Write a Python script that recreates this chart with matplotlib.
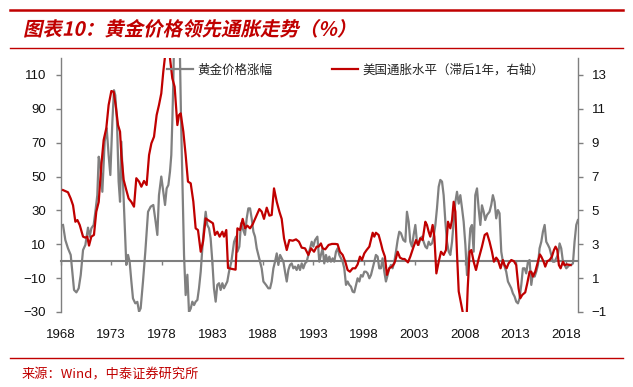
import numpy as np
import matplotlib
matplotlib.use("Agg")
import matplotlib.pyplot as plt
from matplotlib import patheffects as pe
from matplotlib.transforms import Affine2D
from matplotlib.font_manager import FontProperties

# ---------------- data ----------------
# gold price YoY change (%), left axis: (year, value)
gold_points = [
    (1968.23, 21.4), (1968.46, 12.5), (1968.72, 7.6), (1968.99, 3.7), (1969.15, -6.2),
    (1969.32, -17.0), (1969.55, -18.4), (1969.78, -16.0), (1969.98, -8.2), (1970.21, 6.6),
    (1970.44, 9.6), (1970.70, 19.8), (1970.87, 14.5), (1971.03, 19.4), (1971.26, 21.4),
    (1971.43, 29.2), (1971.62, 39.0), (1971.76, 61.7), (1971.92, 56.8), (1972.12, 41.0),
    (1972.35, 70.6), (1972.55, 78.5), (1972.74, 62.7), (1972.91, 50.9), (1973.11, 82.4),
    (1973.27, 101.0), (1973.40, 98.0), (1973.57, 82.4), (1973.73, 47.0), (1973.87, 35.1),
    (1974.00, 70.6), (1974.16, 47.0), (1974.33, 23.3), (1974.49, -2.2), (1974.66, 3.7),
    (1974.82, -0.3), (1974.99, -12.0), (1975.15, -22.0), (1975.38, -24.9), (1975.58, -24.0),
    (1975.75, -29.8), (1975.91, -27.8), (1976.14, -12.0), (1976.37, 5.6), (1976.64, 29.2),
    (1976.90, 32.2), (1977.16, 33.2), (1977.39, 23.3), (1977.56, 15.5), (1977.72, 39.0),
    (1977.95, 50.0), (1978.15, 41.0), (1978.32, 33.2), (1978.48, 43.0), (1978.65, 45.0),
    (1978.81, 52.9), (1978.94, 62.7), (1979.04, 82.4), (1979.14, 106.0), (1979.27, 150.0),
    (1979.45, 175.0), (1979.62, 150.0), (1979.80, 120.0), (1979.90, 85.0), (1980.03, 50.0),
    (1980.20, 3.7), (1980.36, -20.0), (1980.53, -8.0), (1980.69, -30.0), (1980.86, -28.0),
    (1981.02, -23.9), (1981.19, -25.9), (1981.35, -23.9), (1981.52, -22.9), (1981.68, -16.0),
    (1981.85, -6.2), (1982.01, 7.6), (1982.17, 19.4), (1982.34, 29.2), (1982.50, 21.4),
    (1982.67, 19.4), (1982.83, 13.5), (1983.00, -0.3), (1983.16, -16.0), (1983.33, -23.9),
    (1983.49, -14.0), (1983.66, -13.0), (1983.82, -17.0), (1983.99, -13.0), (1984.15, -16.0),
    (1984.32, -14.0), (1984.48, -12.0), (1984.65, -6.2), (1984.88, -0.3), (1985.15, 11.5),
    (1985.34, 14.5), (1985.48, 5.6), (1985.67, 8.6), (1985.84, 22.4), (1986.00, 19.4),
    (1986.23, 15.5), (1986.40, 25.3), (1986.56, 31.2), (1986.73, 31.2), (1986.89, 25.3),
    (1987.06, 17.4), (1987.22, 14.5), (1987.39, 7.6), (1987.55, 3.7), (1987.72, -0.3),
    (1987.88, -4.2), (1988.05, -12.0), (1988.31, -14.0), (1988.54, -16.0), (1988.71, -16.0),
    (1988.87, -12.0), (1989.04, -4.2), (1989.20, -0.3), (1989.37, 4.6), (1989.53, -2.2),
    (1989.70, 3.7), (1989.86, 1.7), (1990.03, -0.3), (1990.19, -6.2), (1990.36, -12.0),
    (1990.52, -5.2), (1990.68, -2.2), (1990.85, -1.3), (1991.01, -4.2), (1991.18, -3.2),
    (1991.34, -5.2), (1991.51, -2.2), (1991.67, -5.2), (1991.84, -1.3), (1992.00, -4.2),
    (1992.17, -1.3), (1992.33, -0.3), (1992.50, 3.7), (1992.66, 7.6), (1992.83, 11.5),
    (1992.99, 8.6), (1993.16, 12.5), (1993.39, 14.5), (1993.58, -0.3), (1993.74, 3.7),
    (1993.91, 7.6), (1994.07, -1.3), (1994.24, 3.7), (1994.40, -0.3), (1994.57, 2.7),
    (1994.73, -0.3), (1994.90, 1.7), (1995.06, -0.3), (1995.23, 5.6), (1995.39, 7.6),
    (1995.56, 3.7), (1995.72, 1.7), (1995.89, -0.3), (1996.05, -4.2), (1996.22, -14.0),
    (1996.38, -12.0), (1996.55, -14.0), (1996.71, -15.0), (1996.88, -18.0), (1997.04, -18.4),
    (1997.21, -14.0), (1997.37, -10.1), (1997.54, -12.0), (1997.70, -8.2), (1997.87, -9.1),
    (1998.03, -6.2), (1998.20, -6.2), (1998.36, -7.2), (1998.53, -10.1), (1998.69, -8.2),
    (1998.86, -4.2), (1999.02, -0.3), (1999.18, 3.7), (1999.35, 2.7), (1999.51, -4.2),
    (1999.68, -4.2), (1999.84, 1.7), (2000.01, -6.2), (2000.17, -12.0), (2000.34, -8.2),
    (2000.50, -4.2), (2000.67, -2.2), (2000.83, -4.2), (2001.00, -0.3), (2001.16, 5.6),
    (2001.33, 12.5), (2001.49, 17.4), (2001.66, 16.5), (2001.89, 12.5), (2002.09, 11.5),
    (2002.25, 29.2), (2002.42, 23.3), (2002.58, 11.5), (2002.75, 8.6), (2002.91, 15.5),
    (2003.08, 21.4), (2003.24, 11.5), (2003.41, 9.6), (2003.57, 13.5), (2003.74, 14.5),
    (2003.90, 11.5), (2004.07, 8.6), (2004.23, 7.6), (2004.40, 11.5), (2004.56, 9.6),
    (2004.73, 10.5), (2004.89, 14.5), (2005.06, 21.4), (2005.22, 31.2), (2005.39, 44.0),
    (2005.55, 48.0), (2005.72, 47.0), (2005.88, 39.0), (2006.05, 23.3), (2006.21, 11.5),
    (2006.38, 5.6), (2006.54, 3.7), (2006.71, 11.5), (2006.87, 23.3), (2007.04, 35.0),
    (2007.20, 41.0), (2007.37, 34.0), (2007.53, 39.0), (2007.70, 31.2), (2007.86, 23.3),
    (2008.03, 9.6), (2008.19, -8.2), (2008.35, 3.7), (2008.52, 19.4), (2008.68, 21.4),
    (2008.85, 5.6), (2009.01, 39.0), (2009.18, 43.0), (2009.34, 31.2), (2009.51, 21.4),
    (2009.67, 33.0), (2009.84, 29.2), (2009.99, 24.3), (2010.17, 27.3), (2010.42, 29.2),
    (2010.59, 33.2), (2010.75, 39.0), (2010.92, 35.0), (2011.08, 25.3), (2011.25, 30.2),
    (2011.41, 28.3), (2011.58, 5.6), (2011.74, -0.3), (2011.91, -3.2), (2012.07, -6.2),
    (2012.24, -12.0), (2012.40, -14.0), (2012.57, -16.0), (2012.73, -19.0), (2012.90, -20.9),
    (2013.06, -23.9), (2013.23, -24.9), (2013.39, -21.9), (2013.56, -14.0), (2013.72, -4.2),
    (2013.89, -4.2), (2014.05, -7.2), (2014.22, -0.3), (2014.38, 0.7), (2014.55, -14.0),
    (2014.71, -7.2), (2014.88, -9.1), (2015.04, -6.2), (2015.21, -2.2), (2015.37, 7.6),
    (2015.54, 11.5), (2015.70, 17.4), (2015.87, 21.4), (2016.03, 11.5), (2016.20, 9.6),
    (2016.36, 7.6), (2016.52, 3.7), (2016.69, -0.3), (2016.85, -0.3), (2017.02, 1.7),
    (2017.18, 3.7), (2017.35, 10.5), (2017.51, 7.6), (2017.68, -0.3), (2017.84, -2.2),
    (2018.01, -4.2), (2018.17, -3.2), (2018.34, -2.2), (2018.50, -2.2), (2018.67, -1.3),
    (2018.83, 11.5), (2019.00, 21.4), (2019.16, 24.3),
]

# US inflation (%), lagged one year, right axis: (year, value)
cpi_points = [
    (1968.23, 6.20), (1968.72, 6.07), (1968.99, 5.70), (1969.22, 5.30), (1969.45, 4.33),
    (1969.65, 4.43), (1969.88, 4.14), (1970.21, 3.45), (1970.44, 3.39), (1970.63, 3.45),
    (1970.80, 2.92), (1971.03, 3.45), (1971.29, 3.55), (1971.52, 4.92), (1971.76, 5.50),
    (1972.02, 7.68), (1972.25, 9.16), (1972.51, 9.85), (1972.74, 11.22), (1973.01, 12.05),
    (1973.24, 12.00), (1973.44, 11.20), (1973.67, 10.04), (1973.87, 9.65), (1974.00, 8.27),
    (1974.23, 6.80), (1974.49, 6.20), (1974.72, 5.70), (1974.99, 5.50), (1975.25, 5.22),
    (1975.48, 6.90), (1975.75, 6.70), (1975.98, 6.40), (1976.24, 6.74), (1976.50, 6.50),
    (1976.74, 8.27), (1976.97, 8.96), (1977.23, 9.35), (1977.49, 10.63), (1977.72, 11.22),
    (1977.95, 11.91), (1978.15, 13.20), (1978.32, 14.10), (1978.55, 14.80), (1978.81, 14.00),
    (1979.04, 12.80), (1979.27, 12.30), (1979.54, 10.04), (1979.70, 10.63), (1979.87, 10.73),
    (1980.13, 9.65), (1980.36, 8.27), (1980.59, 6.70), (1980.86, 6.60), (1981.12, 5.52),
    (1981.35, 3.94), (1981.58, 3.84), (1981.85, 2.56), (1982.08, 3.15), (1982.34, 4.53),
    (1982.57, 4.43), (1982.83, 4.33), (1983.06, 4.24), (1983.26, 3.55), (1983.49, 3.74),
    (1983.72, 3.45), (1983.99, 3.74), (1984.15, 3.45), (1984.38, 3.84), (1984.55, 1.60),
    (1984.90, 1.55), (1985.30, 1.50), (1985.48, 3.94), (1985.74, 3.84), (1986.00, 4.50),
    (1986.23, 3.94), (1986.46, 4.10), (1986.73, 3.94), (1986.99, 4.18), (1987.32, 4.63),
    (1987.65, 5.08), (1987.88, 4.93), (1988.11, 4.50), (1988.38, 5.16), (1988.64, 4.69),
    (1988.87, 4.73), (1989.10, 6.30), (1989.37, 5.51), (1989.63, 4.93), (1989.86, 4.50),
    (1990.09, 3.35), (1990.36, 2.66), (1990.62, 3.25), (1990.95, 3.21), (1991.28, 3.29),
    (1991.57, 3.15), (1991.84, 2.80), (1992.17, 2.76), (1992.50, 2.37), (1992.76, 2.76),
    (1993.06, 2.56), (1993.32, 2.86), (1993.51, 2.86), (1993.74, 3.05), (1993.91, 2.76),
    (1994.17, 2.70), (1994.50, 2.96), (1994.83, 3.02), (1995.16, 3.02), (1995.39, 3.00),
    (1995.62, 2.56), (1995.89, 2.37), (1996.15, 1.97), (1996.38, 1.48), (1996.61, 1.38),
    (1996.88, 1.58), (1997.14, 1.58), (1997.37, 1.81), (1997.60, 2.27), (1997.80, 2.07),
    (1998.03, 2.46), (1998.26, 2.66), (1998.53, 2.86), (1998.69, 3.25), (1998.86, 3.68),
    (1999.02, 3.45), (1999.18, 3.68), (1999.45, 3.55), (1999.68, 3.05), (1999.84, 2.66),
    (2000.07, 2.27), (2000.27, 1.19), (2000.50, 1.58), (2000.77, 1.68), (2001.00, 1.87),
    (2001.16, 2.17), (2001.33, 2.56), (2001.56, 2.21), (2001.82, 2.13), (2002.02, 2.13),
    (2002.35, 1.93), (2002.58, 2.27), (2002.91, 2.86), (2003.15, 3.25), (2003.34, 2.96),
    (2003.57, 3.35), (2003.80, 3.25), (2004.07, 4.33), (2004.23, 4.14), (2004.40, 3.74),
    (2004.56, 3.45), (2004.79, 4.14), (2004.96, 3.45), (2005.16, 1.28), (2005.39, 1.97),
    (2005.62, 2.56), (2005.88, 2.37), (2006.11, 2.66), (2006.31, 4.33), (2006.54, 3.94),
    (2006.71, 4.43), (2006.87, 5.51), (2007.04, 4.92), (2007.20, 2.46), (2007.37, 0.22),
    (2007.53, -0.27), (2007.70, -0.76), (2007.86, -1.30), (2008.03, -2.00), (2008.16, -1.20),
    (2008.26, 0.40), (2008.45, 2.56), (2008.62, 2.66), (2008.85, 1.97), (2009.08, 1.48),
    (2009.34, 2.13), (2009.67, 2.86), (2009.94, 3.55), (2010.17, 3.65), (2010.42, 3.15),
    (2010.66, 2.56), (2010.85, 1.97), (2011.08, 2.21), (2011.25, 2.07), (2011.51, 1.58),
    (2011.74, 2.07), (2011.91, 1.77), (2012.11, 1.58), (2012.30, 1.87), (2012.57, 2.07),
    (2012.83, 2.00), (2013.06, 1.77), (2013.29, 0.40), (2013.46, -0.19), (2013.66, 0.01),
    (2013.95, 0.16), (2014.15, 0.69), (2014.38, 1.38), (2014.55, 1.38), (2014.71, 1.09),
    (2014.94, 1.38), (2015.21, 1.97), (2015.40, 2.40), (2015.54, 2.27), (2015.77, 1.97),
    (2015.93, 1.68), (2016.13, 2.00), (2016.36, 2.07), (2016.59, 2.27), (2016.79, 2.66),
    (2016.95, 2.86), (2017.12, 2.66), (2017.28, 1.77), (2017.45, 1.58), (2017.68, 1.97),
    (2017.84, 1.77), (2018.07, 1.81), (2018.44, 1.77),
]

year_ticks = [1968, 1973, 1978, 1983, 1988, 1993, 1998, 2003, 2008, 2013, 2018]
left_ticks = [-30, -10, 10, 30, 50, 70, 90, 110]
right_ticks = [-1, 1, 3, 5, 7, 9, 11, 13]

title_text = "图表10：黄金价格领先通胀走势（%）"
source_text = "来源：Wind，中泰证券研究所"
gold_label = "黄金价格涨幅"
cpi_label = "美国通胀水平（滞后1年，右轴）"

# ---------------- style ----------------
RED = "#C00000"
GRAY = "#808080"
AXIS = "#7F7F7F"
CJK = ["Noto Sans CJK SC", "DejaVu Sans"]
plt.rcParams["font.family"] = ["Liberation Sans", "DejaVu Sans"]


class Italic(pe.AbstractPathEffect):
    """Slant text glyphs (faux italic) about the text origin."""
    def __init__(self, angle=12):
        super().__init__()
        self.angle = angle

    def draw_path(self, renderer, gc, tpath, affine, rgbFace=None):
        x0, y0 = affine.transform((0, 0))
        sk = Affine2D().translate(-x0, -y0).skew_deg(self.angle, 0).translate(x0, y0)
        renderer.draw_path(gc, tpath, affine + sk, rgbFace)


W, H = 633, 387
fig = plt.figure(figsize=(W / 100, H / 100), dpi=100)

def fx(px):
    return px / W

def fy(py):
    return 1 - py / H

ax = fig.add_axes([fx(60.7), fy(312), fx(578.3) - fx(60.7), fy(58) - fy(312)])
ax2 = ax.twinx()

gold_t, gold_v = np.array(gold_points).T
cpi_t, cpi_v = np.array(cpi_points).T

h1, = ax.plot(gold_t, gold_v, color=GRAY, lw=1.6, solid_joinstyle="round")
h2, = ax2.plot(cpi_t, cpi_v, color=RED, lw=1.6, solid_joinstyle="round")

ax.set_xlim(1968, 2019.2)
ax.set_ylim(-30, 120)
ax2.set_ylim(-1, 14)

ax.set_yticks(left_ticks)
ax2.set_yticks(right_ticks)
ax.set_xticks(year_ticks)

for s in ["top", "right"]:
    ax.spines[s].set_visible(False)
for s in ["top", "left", "bottom"]:
    ax2.spines[s].set_visible(False)
ax.spines["left"].set_color(AXIS)
ax.spines["left"].set_linewidth(1.0)
ax2.spines["right"].set_color(AXIS)
ax2.spines["right"].set_linewidth(1.0)
ax.spines["bottom"].set_position(("data", 0))
ax.spines["bottom"].set_color(AXIS)
ax.spines["bottom"].set_linewidth(1.5)

ax.tick_params(axis="x", direction="out", length=3, width=1, color=AXIS, labelbottom=False)
ax.tick_params(axis="y", direction="out", length=3.5, width=1, color=AXIS,
               labelsize=9.5, labelcolor="#111111", pad=7)
ax2.tick_params(axis="y", direction="out", length=3.5, width=1, color=AXIS,
                labelsize=9.5, labelcolor="#111111", pad=6)

sec = ax.secondary_xaxis("bottom")
sec.set_xticks(year_ticks)
sec.set_xticklabels([str(y) for y in year_ticks])
sec.spines["bottom"].set_visible(False)
sec.tick_params(length=0, pad=12, labelsize=9.5, labelcolor="#111111")

leg = ax2.legend([h1, h2], [gold_label, cpi_label], loc="center left",
                 bbox_to_anchor=(fx(167), fy(70)), bbox_transform=fig.transFigure,
                 ncol=2, frameon=False, prop=FontProperties(family=CJK, size=9),
                 handlelength=2.1, handletextpad=0.3, columnspacing=4.8,
                 borderpad=0, borderaxespad=0)
for t in leg.get_texts():
    t.set_color("#222222")

# header / footer rules and texts
fig.add_artist(plt.Line2D([fx(10), fx(623)], [fy(10), fy(10)], color=RED, lw=1.8))
fig.add_artist(plt.Line2D([fx(10), fx(623)], [fy(47.5), fy(47.5)], color=RED, lw=1.0))
fig.add_artist(plt.Line2D([fx(10), fx(623)], [fy(357.5), fy(357.5)], color=RED, lw=1.0))

fig.text(fx(23), fy(30), title_text, family=CJK, size=14, weight="bold",
         color=RED, va="center", ha="left", path_effects=[Italic(12)])
fig.text(fx(22), fy(375), source_text, family=CJK, size=9.5, color=RED,
         va="center", ha="left")

fig.savefig("out.png", dpi=100)
